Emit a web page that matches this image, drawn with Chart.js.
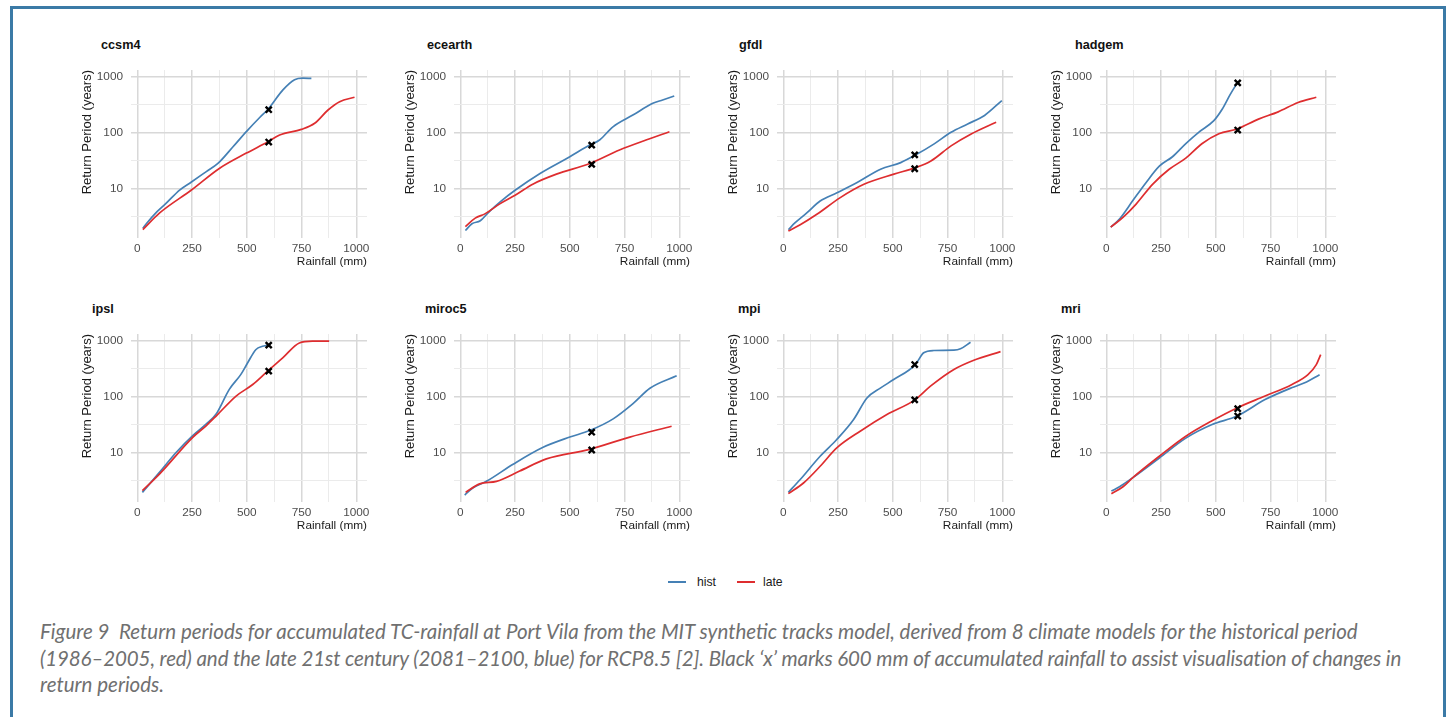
<!DOCTYPE html>
<html>
<head>
<meta charset="UTF-8">
<title>Figure 9 - Return periods for TC-rainfall at Port Vila</title>
<script src="https://cdn.jsdelivr.net/npm/chart.js@4.4.1/dist/chart.umd.min.js"></script>
<style>
  body { margin: 0; background: #ffffff; width: 1454px; height: 717px; overflow: hidden; position: relative;
         font-family: 'Liberation Sans', Arial, sans-serif; }
  .frame { position: absolute; left: 10px; top: 6px; width: 1430px; height: 760px; border: 3px solid #3b7aa6; }
  .panel-title { position: absolute; font-weight: bold; font-size: 12.7px; line-height: 1; color: #111; }
  canvas { position: absolute; }
  .key-line { position: absolute; height: 2px; width: 18px; }
  .key-text { position: absolute; font-size: 12.2px; line-height: 14px; color: #1a1a1a; }
  .caption { position: absolute; left: 40px; white-space: pre; font-family: Lato, 'Open Sans', sans-serif;
             font-style: italic; color: #707070; line-height: 26px; }
</style>
</head>
<body>
<div class="frame"></div>
<div id="panels"></div>

<div class="key-line" style="left:668px; top:581px; background:#4580b5;"></div>
<div class="key-text" style="left:697px; top:575px;">hist</div>
<div class="key-line" style="left:737px; top:581px; background:#de2d2f;"></div>
<div class="key-text" style="left:763px; top:575px;">late</div>

<div class="caption" id="cap1" style="top:618px;">Figure 9  Return periods for accumulated TC-rainfall at Port Vila from the MIT synthetic tracks model, derived from 8 climate models for the historical period</div>
<div class="caption" id="cap2" style="top:645px;">(1986–2005, red) and the late 21st century (2081–2100, blue) for RCP8.5 [2]. Black ‘x’ marks 600 mm of accumulated rainfall to assist visualisation of changes in</div>
<div class="caption" id="cap3" style="top:671px;">return periods.</div>

<script>
// ---- data: [rainfall mm, return period years] ----
const models = ['ccsm4', 'ecearth', 'gfdl', 'hadgem', 'ipsl', 'miroc5', 'mpi', 'mri'];

const ccsm4Hist = [[25,1.9],[41,2.3],[90,3.8],[132,5.4],[193,9.3],[247,13],[315,20],[368,28],[437,56],[498,105],[560,190],[597,265],[665,590],[718,900],[756,960],[795,950]];
const ccsm4Late = [[25,1.8],[102,3.6],[247,9.3],[376,23],[498,43],[597,69],[650,91],[749,115],[810,148],[871,257],[924,363],[992,435]];

const ecearthHist = [[23,1.74],[53,2.3],[91,2.6],[129,3.7],[182,5.7],[250,9.2],[364,18.5],[500,37],[591,60],[636,74],[697,128],[788,208],[879,339],[924,390],[977,460]];
const ecearthLate = [[23,2.05],[68,2.9],[114,3.5],[182,5.3],[250,7.5],[333,12],[439,18],[591,28],[727,49],[848,74],[955,104]];

const gfdlHist = [[23,1.8],[54,2.4],[107,3.6],[168,5.9],[245,8.3],[337,12.7],[444,22],[536,29],[605,40],[689,63],[766,102],[842,144],[919,205],[998,380]];
const gfdlLate = [[23,1.7],[77,2.2],[153,3.4],[260,6.8],[368,11.8],[505,18],[605,23.6],[674,31],[766,58],[858,95],[972,155]];

const hadgemHist = [[20,2.0],[60,2.8],[121,6],[181,12.6],[242,25],[302,37],[363,64],[423,103],[491,165],[529,265],[566,490],[597,780]];
const hadgemLate = [[20,2.0],[76,3.0],[136,5.2],[211,11.8],[287,22],[363,35],[438,64],[514,96],[597,117],[695,176],[785,238],[876,350],[959,435]];

const ipslHist = [[23,1.9],[102,4.4],[178,10],[253,20],[314,32],[360,49],[420,136],[473,253],[504,410],[542,710],[572,810],[595,850]];
const ipslLate = [[23,2.05],[102,4.1],[253,18.6],[314,30],[360,45],[451,103],[527,166],[595,290],[664,500],[740,930],[800,1000],[876,1000]];

const miroc5Hist = [[20,1.7],[58,2.3],[119,3.0],[241,6.1],[378,12.3],[500,18.8],[591,24.7],[698,40],[790,76],[866,142],[988,238]];
const miroc5Late = [[24,1.9],[88,2.7],[165,3.0],[271,4.6],[393,7.6],[591,11.3],[774,18.8],[965,29.5]];

const mpiHist = [[23,1.9],[76,3.2],[168,8.5],[244,17],[321,39],[382,95],[443,143],[504,204],[603,380],[641,620],[687,680],[779,690],[809,730],[855,960]];
const mpiLate = [[23,1.8],[92,2.8],[168,5.6],[244,12],[351,24],[473,48],[603,89],[672,155],[779,310],[870,455],[992,650]];

const mriHist = [[23,2.0],[60,2.4],[121,3.5],[242,7.9],[363,18],[483,31.6],[597,45],[725,89],[846,145],[906,178],[974,250]];
const mriLate = [[23,1.8],[76,2.4],[121,3.5],[242,8.5],[363,19.5],[483,37],[597,63],[725,103],[846,165],[921,250],[959,380],[979,575]];

const histSeries = [ccsm4Hist, ecearthHist, gfdlHist, hadgemHist, ipslHist, miroc5Hist, mpiHist, mriHist];
const lateSeries = [ccsm4Late, ecearthLate, gfdlLate, hadgemLate, ipslLate, miroc5Late, mpiLate, mriLate];

// black 'x' at 600 mm on each curve
const markRainfall = 600;
const histAt600 = [260, 60, 40, 790, 850, 23, 380, 45];
const lateAt600 = [68, 27, 22.5, 112, 290, 11, 88, 61];

// axes
const rainTicks = [0, 125, 250, 375, 500, 625, 750, 875, 1000];
const rainLabels = [0, 250, 500, 750, 1000];
const periodTicks = [3.1623, 10, 31.623, 100, 316.23, 1000];
const periodLabels = [10, 100, 1000];

// ---- layout ----
const HIST_COLOR = '#4580b5';
const LATE_COLOR = '#de2d2f';
const titleLeft = [101, 427, 739, 1075, 92, 425, 738, 1061];
const canvasLeft0 = 80, colStep = 323;
const rowTop = [70, 334];
const yAxisW = 51, xAxisH = 31, panelW = 236, panelH = 168, padRight = 14;

Chart.defaults.font.family = "'Liberation Sans', Arial, sans-serif";

const isMajor = (v, list) => list.some(m => Math.abs(m - v) < 1e-6);
const gridColor = list => ctx => isMajor(ctx.tick.value, list) ? '#d8d8d8' : '#ebebeb';
const gridWidth = list => ctx => isMajor(ctx.tick.value, list) ? 1.5 : 1;
const toPoints = pairs => pairs.map(([x, y]) => ({ x, y }));

const holder = document.getElementById('panels');

models.forEach((name, i) => {
  const col = i % 4, row = Math.floor(i / 4);

  const t = document.createElement('div');
  t.className = 'panel-title';
  t.textContent = name;
  t.style.left = titleLeft[i] + 'px';
  t.style.top = (rowTop[row] - 31) + 'px';
  holder.appendChild(t);

  const cv = document.createElement('canvas');
  cv.width = yAxisW + panelW + padRight;
  cv.height = panelH + xAxisH;
  cv.style.left = (canvasLeft0 + col * colStep) + 'px';
  cv.style.top = rowTop[row] + 'px';
  holder.appendChild(cv);

  new Chart(cv, {
    type: 'line',
    data: {
      datasets: [
        {
          label: '600 mm',
          data: [{ x: markRainfall, y: histAt600[i] }, { x: markRainfall, y: lateAt600[i] }],
          showLine: false,
          pointStyle: 'crossRot',
          pointRadius: 4.3,
          borderColor: '#000000',
          backgroundColor: '#000000',
          borderWidth: 2.4
        },
        {
          label: 'late',
          data: toPoints(lateSeries[i]),
          borderColor: LATE_COLOR,
          borderWidth: 1.7,
          pointRadius: 0,
          cubicInterpolationMode: 'monotone',
          fill: false
        },
        {
          label: 'hist',
          data: toPoints(histSeries[i]),
          borderColor: HIST_COLOR,
          borderWidth: 1.7,
          pointRadius: 0,
          cubicInterpolationMode: 'monotone',
          fill: false
        }
      ]
    },
    options: {
      responsive: false,
      animation: false,
      events: [],
      layout: { autoPadding: false, padding: { left: 0, top: 0, right: padRight, bottom: 0 } },
      plugins: { legend: { display: false }, tooltip: { enabled: false }, title: { display: false } },
      scales: {
        x: {
          type: 'linear',
          min: -29, max: 1049,
          bounds: 'data',
          afterBuildTicks: s => { s.ticks = rainTicks.map(v => ({ value: v })); },
          afterFit: s => { s.height = xAxisH; s.paddingLeft = 0; s.paddingRight = 0; s.paddingTop = 0; s.paddingBottom = 0; },
          ticks: {
            autoSkip: false, maxRotation: 0, padding: 4,
            color: '#4d4d4d', font: { size: 11.8 },
            callback: v => rainLabels.includes(v) ? String(v) : ''
          },
          grid: { drawTicks: false, color: gridColor(rainLabels), lineWidth: gridWidth(rainLabels) },
          border: { display: false },
          title: { display: true, text: 'Rainfall (mm)', align: 'end', color: '#1a1a1a', font: { size: 11.8 }, padding: 0 }
        },
        y: {
          type: 'logarithmic',
          min: 1.274, max: 1349,
          bounds: 'data',
          afterBuildTicks: s => { s.ticks = periodTicks.map(v => ({ value: v })); },
          afterFit: s => { s.width = yAxisW; s.paddingLeft = 0; s.paddingRight = 0; s.paddingTop = 0; s.paddingBottom = 0; },
          ticks: {
            autoSkip: false, padding: 8,
            color: '#4d4d4d', font: { size: 11.8 },
            callback: v => periodLabels.includes(v) ? String(v) : ''
          },
          grid: { drawTicks: false, color: gridColor(periodLabels), lineWidth: gridWidth(periodLabels) },
          border: { display: false },
          title: { display: true, text: 'Return Period (years)', align: 'end', color: '#1a1a1a', font: { size: 13 }, padding: 0 }
        }
      }
    }
  });
});

// fit caption font so the first line spans like the original, then nudge line 2 spacing
const capCtx = document.createElement('canvas').getContext('2d');
capCtx.font = "italic 100px Lato";
const cap1 = document.getElementById('cap1').textContent;
const cap2 = document.getElementById('cap2').textContent;
const capSize = 100 * 1322 / capCtx.measureText(cap1).width;
['cap1', 'cap2', 'cap3'].forEach(id => { document.getElementById(id).style.fontSize = capSize.toFixed(2) + 'px'; });
capCtx.font = 'italic ' + capSize.toFixed(2) + 'px Lato';
const w2 = capCtx.measureText(cap2).width;
document.getElementById('cap2').style.letterSpacing = ((1363 - w2) / cap2.length).toFixed(3) + 'px';
</script>
</body>
</html>
